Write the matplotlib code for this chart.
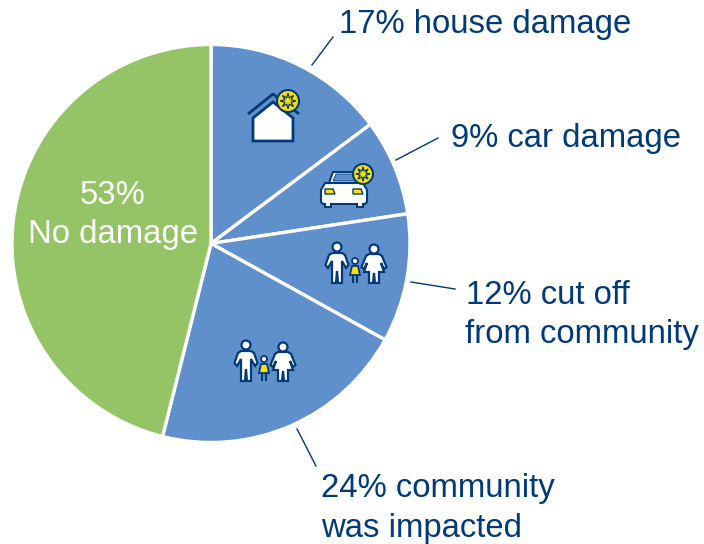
import numpy as np
import matplotlib
matplotlib.use("Agg")
import matplotlib.pyplot as plt
from matplotlib.patches import Circle, Polygon

plt.rcParams['font.family'] = ['Liberation Sans', 'DejaVu Sans']

# slice sizes are the percentages from the labels (they add up to 115)
categories = ["house damage", "car damage", "cut off\nfrom community", "community\nwas impacted", "No damage"]
percents = [17, 9, 12, 24, 53]
slice_colors = ["#5F90CB", "#5F90CB", "#5F90CB", "#5F90CB", "#94C466"]

navy = "#003A78"
yellow = "#FFE000"

fig = plt.figure(figsize=(7.04, 5.44), dpi=100)
ax = fig.add_axes([0, 0, 1, 1])

# y axis is flipped so everything below is in picture pixels
ax.pie(percents, colors=slice_colors, center=(211, 243.5), radius=199, startangle=-90,
       counterclock=True, wedgeprops={"edgecolor": "white", "linewidth": 2.4})
ax.set_xlim(0, 704)
ax.set_ylim(544, 0)
ax.set_aspect("equal")
ax.axis("off")


def badge(x, y, r):
    ax.add_patch(Circle((x, y), r, fc=yellow, ec=navy, lw=1.5, zorder=7))
    # little damage burst
    angles = np.linspace(0, 2 * np.pi, 17)[:-1] + np.pi / 2
    radii = np.where(np.arange(16) % 2 == 0, r * 0.72, r * 0.3)
    pts = np.column_stack([x + radii * np.cos(angles), y + radii * np.sin(angles)])
    ax.add_patch(Polygon(pts, fc=yellow, ec=navy, lw=0.9, zorder=8))


def house(x, y):
    body = [(-20, 23), (-20, 0), (0, -16), (20, 0), (20, 23)]
    ax.add_patch(Polygon([(x + a, y + b) for a, b in body], fc="white", ec=navy, lw=2.0, zorder=3))
    roof_x = [x - 25, x, x + 26]
    roof_y = [y - 4, y - 24, y - 4]
    ax.plot(roof_x, roof_y, color=navy, lw=2.0, zorder=3, solid_capstyle="butt")
    badge(x + 15, y - 17, 11)


def car(x, y):
    cabin = [(-15, -5), (-11, -16), (15, -16), (19, -5)]
    ax.add_patch(Polygon([(x + a, y + b) for a, b in cabin], fc="white", ec=navy, lw=1.4, zorder=3))
    glass = [(-11, -7), (-8, -14), (13, -14), (15, -7)]
    ax.add_patch(Polygon([(x + a, y + b) for a, b in glass], fc="#5F90CB", ec=navy, lw=0.6, zorder=3))
    body = [(-23, 2), (-19, -5), (19, -5), (23, 2), (23, 14), (21, 16), (19, 16), (19, 19), (13, 19),
            (13, 16), (-13, 16), (-13, 19), (-19, 19), (-19, 16), (-21, 16), (-23, 14)]
    ax.add_patch(Polygon([(x + a, y + b) for a, b in body], fc="white", ec=navy, lw=1.5, zorder=4))
    for lx in (-14, 14):
        ax.add_patch(Polygon([(x + lx - 5, y + 1), (x + lx + 3, y + 1), (x + lx + 5, y + 6), (x + lx - 5, y + 6)],
                             fc=yellow, ec=navy, lw=1.0, zorder=5))
    badge(x + 19, y - 14, 10)


def family(x, y):
    # x, y is the man's head
    man = [(-5, 6), (5, 6), (8, 8), (11.5, 18), (9, 21), (5, 14), (5, 36), (1, 36), (0, 24), (-1, 36),
           (-5, 36), (-5, 14), (-9, 21), (-11.5, 18), (-8, 8)]
    ax.add_patch(Polygon([(x + a, y + b) for a, b in man], fc="white", ec=navy, lw=1.6, zorder=3))
    ax.add_patch(Circle((x, y), 4.5, fc="white", ec=navy, lw=1.6, zorder=3))

    wx, wy = x + 37, y + 2
    woman = [(-5, 5), (5, 5), (8, 7), (12.5, 18), (10, 20), (7, 14), (10, 23), (5, 23), (5, 34), (1, 34), (0, 24),
             (-1, 34), (-5, 34), (-5, 23), (-10, 23), (-7, 14), (-10, 20), (-12.5, 18), (-8, 7)]
    ax.add_patch(Polygon([(wx + a, wy + b) for a, b in woman], fc="white", ec=navy, lw=1.6, zorder=3))
    ax.add_patch(Circle((wx, wy), 4.5, fc="white", ec=navy, lw=1.6, zorder=3))

    cx, cy = x + 18, y + 14
    ax.plot([cx - 1.8, cx - 1.8], [cy + 12, cy + 21], color=navy, lw=1.5, zorder=3)
    ax.plot([cx + 1.8, cx + 1.8], [cy + 12, cy + 21], color=navy, lw=1.5, zorder=3)
    dress = [(-3, 5), (3, 5), (5, 14), (-5, 14)]
    ax.add_patch(Polygon([(cx + a, cy + b) for a, b in dress], fc=yellow, ec=navy, lw=1.3, zorder=4))
    ax.add_patch(Circle((cx, cy), 3, fc="white", ec=navy, lw=1.3, zorder=4))


house(273, 118)
car(344, 188)
family(337, 247)
family(246, 345)

# leader lines
ax.plot([312, 333], [65, 37], color=navy, lw=1.0)
ax.plot([396, 438], [160, 138], color=navy, lw=1.0)
ax.plot([411, 455], [282, 289], color=navy, lw=1.0)
ax.plot([297, 316], [429, 466], color=navy, lw=1.0)

fs = 23.7
ax.text(339, 25, f"{percents[0]}% {categories[0]}", color=navy, fontsize=fs, va="center", ha="left")
ax.text(451, 139, f"{percents[1]}% {categories[1]}", color=navy, fontsize=fs, va="center", ha="left")
ax.text(466, 296, f"{percents[2]}% cut off", color=navy, fontsize=fs, va="center", ha="left")
ax.text(465, 335, "from community", color=navy, fontsize=fs, va="center", ha="left")
ax.text(321, 489, f"{percents[3]}% community", color=navy, fontsize=fs, va="center", ha="left")
ax.text(321, 528, "was impacted", color=navy, fontsize=fs, va="center", ha="left")
ax.text(113, 195, f"{percents[4]}%", color="white", fontsize=fs, va="center", ha="center")
ax.text(113, 235, categories[4], color="white", fontsize=fs, va="center", ha="center")

fig.savefig("out.png", dpi=100)
